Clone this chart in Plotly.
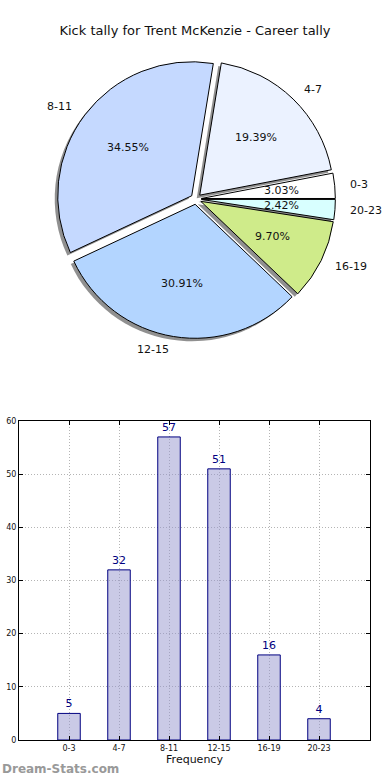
import math
import plotly.graph_objects as go

categories = ["0-3", "4-7", "8-11", "12-15", "16-19", "20-23"]
counts = [5, 32, 57, 51, 16, 4]
slice_colors = ["#ffffff", "#ebf2ff", "#c5d9ff", "#b3d5ff", "#cfeb8a", "#d8ffff"]
title_text = "Kick tally for Trent McKenzie - Career tally"

W, H = 390, 780
cx, cy = 196, 199      # pie centre (px)
r = 134                # pie radius (px)
pull = 0.04
r0 = r * (1 + pull)
FONT = "DejaVu Sans"

def dom(px, py):
    return dict(x=[(px - r0) / W, (px + r0) / W],
                y=[(H - py - r0) / H, (H - py + r0) / H])

pulls = [pull] * len(counts)
total = sum(counts)
# first slice starts at 3 o'clock and runs counter-clockwise
rot = 90 - 360.0 * counts[0] / total

mids, cum = [], 0
for v in counts:
    mids.append(2 * math.pi * (cum + v / 2) / total)
    cum += v

annotations = []
for lab, v, a in zip(categories, counts, mids):
    dx = (0.6 + pull) * r * math.cos(a)
    dy = (0.6 + pull) * r * math.sin(a)
    annotations.append(dict(text="%.2f%%" % (100 * v / total), xref="paper", yref="paper",
                            x=(cx + dx) / W, y=(H - cy + dy) / H, xanchor="center",
                            yanchor="middle", showarrow=False,
                            font=dict(family=FONT, size=11, color="#111")))
    lx = (1.1 + pull) * r * math.cos(a)
    ly = (1.1 + pull) * r * math.sin(a)
    annotations.append(dict(text=lab, xref="paper", yref="paper",
                            x=(cx + lx) / W, y=(H - cy + ly) / H,
                            xanchor="left" if lx > 0 else "right",
                            yanchor="middle", showarrow=False,
                            font=dict(family=FONT, size=11, color="#111")))

annotations.append(dict(text="<b>Dream-Stats.com</b>", xref="paper", yref="paper",
                        x=0, y=2 / H, xanchor="left", yanchor="bottom", showarrow=False,
                        font=dict(family=FONT, size=12, color="#999999")))

fig = go.Figure()

# shadow
fig.add_trace(go.Pie(
    labels=categories, values=counts, sort=False, direction="counterclockwise",
    rotation=rot, pull=pulls, domain=dom(cx - 3, cy + 3),
    marker=dict(colors=["rgba(125,125,125,0.85)"] * len(counts), line=dict(width=0)),
    textinfo="none", hoverinfo="skip", showlegend=False))

# main pie
fig.add_trace(go.Pie(
    labels=categories, values=counts, sort=False, direction="counterclockwise",
    rotation=rot, pull=pulls, domain=dom(cx, cy),
    marker=dict(colors=slice_colors, line=dict(color="black", width=1)),
    textinfo="none", showlegend=False))

# bar chart
fig.add_trace(go.Bar(
    x=categories, y=counts, width=0.45,
    marker=dict(color="rgba(150,150,205,0.5)", line=dict(color="#000080", width=1)),
    text=counts, textposition="outside", cliponaxis=False,
    textfont=dict(family=FONT, size=11, color="#000080"),
    showlegend=False))

plot_l, plot_r, plot_t, plot_b = 19, 370, 421, 740
axis_common = dict(showline=True, linecolor="black", linewidth=1, mirror="ticks",
                   ticks="inside", ticklen=4, tickcolor="black",
                   showgrid=True, gridcolor="#b4b4b4", griddash="1px,2px", gridwidth=1,
                   tickfont=dict(family=FONT, size=8, color="#111"),
                   zeroline=False, fixedrange=True, automargin=False)
fig.update_layout(
    width=W, height=H, margin=dict(l=0, r=0, t=0, b=0, autoexpand=False),
    paper_bgcolor="white", plot_bgcolor="white",
    font=dict(family=FONT, color="#111"),
    title=dict(text=title_text, x=0.5, xanchor="center", y=1 - 30 / H, yanchor="middle",
               font=dict(family=FONT, size=13, color="#111")),
    xaxis=dict(domain=[plot_l / W, plot_r / W], range=[-1, 6.02],
               title=dict(text="Frequency", font=dict(family=FONT, size=11, color="#111"), standoff=2),
               **axis_common),
    yaxis=dict(domain=[(H - plot_b) / H, (H - plot_t) / H], range=[0, 60], dtick=10,
               **axis_common),
    annotations=annotations,
)

fig.write_html("out.html", config={"displayModeBar": False},
               post_script="document.body.style.margin='0';")
